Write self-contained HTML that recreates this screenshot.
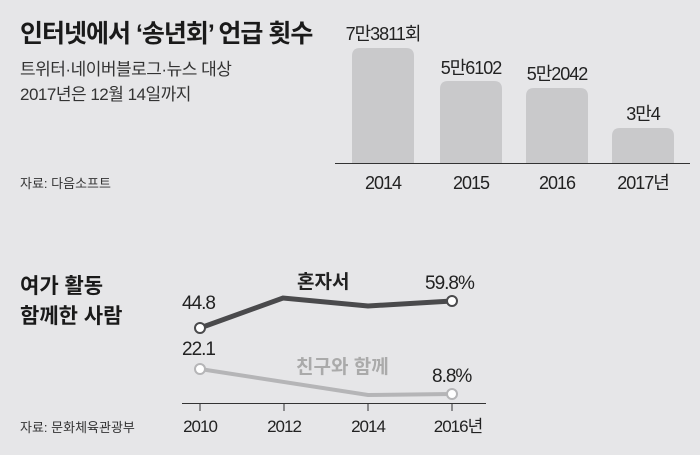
<!DOCTYPE html>
<html><head><meta charset="utf-8"><style>
body{margin:0;width:700px;height:450px;background:#e6e6e8;overflow:hidden;font-family:"Liberation Sans","Noto Sans CJK KR",sans-serif;}
</style></head><body>
<svg width="700" height="450" viewBox="0 0 700 450" xmlns="http://www.w3.org/2000/svg" font-family="'Liberation Sans','Noto Sans CJK KR',sans-serif">
<rect width="700" height="450" fill="#e6e6e8"/>
<text x="20" y="42" font-size="25" font-weight="bold" fill="#1a1a1a" letter-spacing="-1">인터넷에서 ‘송년회’ 언급 횟수</text>
<text x="20" y="75" font-size="17" fill="#333" letter-spacing="-0.5">트위터·네이버블로그·뉴스 대상</text>
<text x="20" y="100" font-size="17" fill="#333" letter-spacing="-0.5">2017년은 12월 14일까지</text>
<text x="20" y="188" font-size="13" fill="#333">자료: 다음소프트</text>
<g fill="#c9c9cb">
<path d="M352,163 V56 Q352,48 360,48 H406 Q414,48 414,56 V163Z"/>
<path d="M440,163 V89 Q440,81 448,81 H494 Q502,81 502,89 V163Z"/>
<path d="M526,163 V96 Q526,88 534,88 H580 Q588,88 588,96 V163Z"/>
<path d="M612,163 V136 Q612,128 620,128 H666 Q674,128 674,136 V163Z"/>
</g>
<line x1="335" y1="163.5" x2="690" y2="163.5" stroke="#333" stroke-width="1"/>
<g font-size="18" fill="#222" text-anchor="middle" letter-spacing="-1">
<text x="383" y="40">7만3811회</text>
<text x="471" y="74">5만6102</text>
<text x="557" y="80">5만2042</text>
<text x="643" y="120">3만4</text>
<text x="383" y="189">2014</text>
<text x="471" y="189">2015</text>
<text x="557" y="189">2016</text>
<text x="643" y="189">2017년</text>
</g>
<text x="20" y="293" font-size="21" font-weight="bold" fill="#1a1a1a">여가 활동</text>
<text x="20" y="323" font-size="21" font-weight="bold" fill="#1a1a1a">함께한 사람</text>
<text x="20" y="432" font-size="13" fill="#333">자료: 문화체육관광부</text>
<line x1="182" y1="403.5" x2="486" y2="403.5" stroke="#333"/>
<g stroke="#333"><line x1="200" y1="403" x2="200" y2="411"/><line x1="284" y1="403" x2="284" y2="411"/><line x1="368" y1="403" x2="368" y2="411"/><line x1="452" y1="403" x2="452" y2="411"/></g>
<g font-size="17" fill="#222" text-anchor="middle" letter-spacing="-1">
<text x="200" y="432">2010</text><text x="284" y="432">2012</text><text x="368" y="432">2014</text><text x="458" y="432">2016년</text>
</g>
<polyline points="200,369 368,395 452,394" fill="none" stroke="#b5b5b7" stroke-width="4"/>
<polyline points="200,328 283,298 368,306 452,301" fill="none" stroke="#4a4a4c" stroke-width="5"/>
<g fill="#fff" stroke-width="2"><circle cx="200" cy="328" r="5" stroke="#4a4a4c"/><circle cx="452" cy="301" r="5" stroke="#4a4a4c"/><circle cx="200" cy="369" r="5" stroke="#b5b5b7"/><circle cx="452" cy="394" r="5" stroke="#b5b5b7"/></g>
<g font-size="19" fill="#222" letter-spacing="-1">
<text x="182" y="309">44.8</text>
<text x="182" y="355">22.1</text>
<text x="425" y="289">59.8%</text>
<text x="432" y="382">8.8%</text>
</g>
<text x="297" y="288" font-size="19" font-weight="bold" fill="#222">혼자서</text>
<text x="296" y="373" font-size="19" font-weight="bold" fill="#aaa">친구와 함께</text>
</svg>
</body></html>
